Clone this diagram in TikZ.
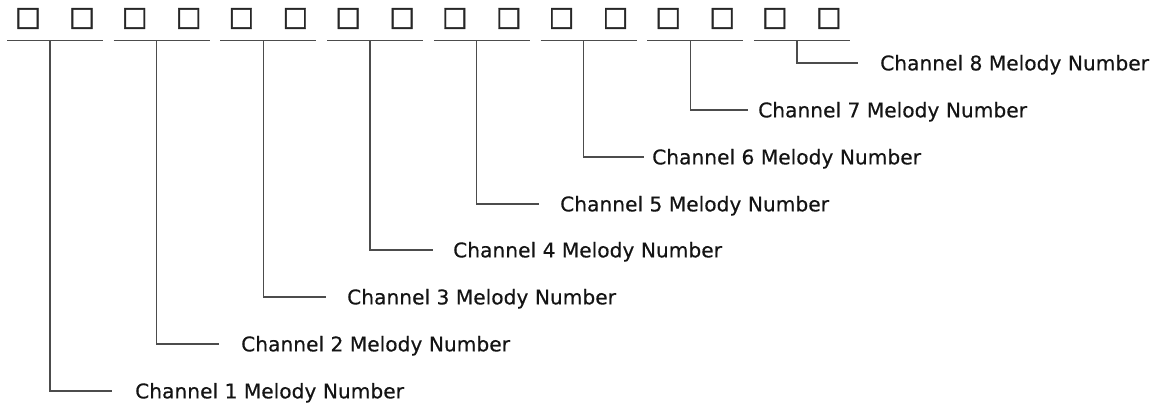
\documentclass[tikz,border=0pt]{standalone}
\usepackage{fontspec}
\setmainfont{DejaVu Sans}
\newfontfamily\labfont{DejaVu Sans}[FakeBold=0.4]
\newfontfamily\sqfont{DejaVu Sans}[FakeBold=1.5]
\begin{document}
\begin{tikzpicture}[x=1pt,y=-1pt,
  lab/.style={anchor=west,inner sep=0pt,text height=14.7pt,text depth=0pt,font=\labfont\fontsize{20.2pt}{24pt}\selectfont,text=black!92},
  sq/.style={inner sep=0pt,font=\sqfont\fontsize{27pt}{30pt}\selectfont,text=black!85},
  wire/.style={draw=black!70,line width=1.3pt}]
\useasboundingbox (0,0) rectangle (1157,407);
\foreach \i/\y/\lx/\g in {1/391/135/23,2/344/241/22,3/297/347/21,4/250/453/20,5/204/560/21,6/157/652/8,7/110/758/10,8/63/880/22}{
  \pgfmathsetmacro{\ox}{106.7*(\i-1)}
  \node[sq] (sa\i) at (28+\ox,18.5) {□};
  \node[sq] (sb\i) at (82+\ox,18.5) {□};
  \coordinate (L\i) at (7+\ox,40.5);
  \coordinate (R\i) at (103+\ox,40.5);
  \coordinate (T\i) at (50+\ox,40.5);
  \node[lab] (lab\i) at (\lx,\y) {Channel \i\ Melody Number};
  \draw[wire] (L\i) -- (R\i);
  \draw[wire] (T\i) |- ([xshift=-\g pt]lab\i.west);
}
\end{tikzpicture}
\end{document}
